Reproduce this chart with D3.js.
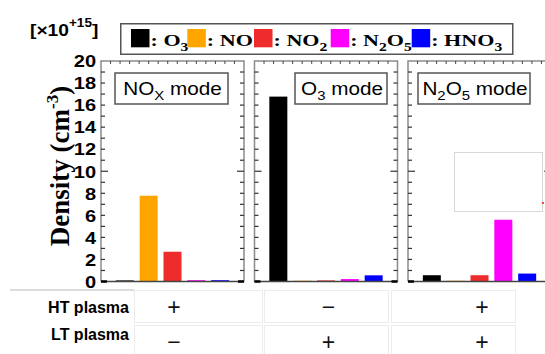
<!DOCTYPE html>
<html>
<head>
<meta charset="utf-8">
<script src="https://cdn.jsdelivr.net/npm/d3@7"></script>
<style>
  html, body { margin: 0; padding: 0; background: #fff; }
  svg { display: block; }
</style>
</head>
<body>
<svg id="chart" width="545" height="354"></svg>
<script>
// Species shown in every panel, in bar order
const species = ["O3", "NO", "NO2", "N2O5", "HNO3"];
const speciesColors = ["#000000", "#FFA500", "#EE2C2C", "#FF00FF", "#0000FF"];

// Operating modes (one panel each)
const modes = ["NOx mode", "O3 mode", "N2O5 mode"];

// Densities in units of 1e15 cm^-3
const noxModeValues  = [0.10, 7.78, 2.70, 0.12, 0.12];
const o3ModeValues   = [16.77, 0.07, 0.10, 0.22, 0.56];
const n2o5ModeValues = [0.57, 0.07, 0.57, 5.60, 0.72];

const yTicks = [0, 2, 4, 6, 8, 10, 12, 14, 16, 18, 20];

// Plasma conditions per mode
const htPlasma = ["+", "\u2212", "+"];
const ltPlasma = ["\u2212", "+", "+"];

const panelValues = [noxModeValues, o3ModeValues, n2o5ModeValues];

const svg = d3.select("#chart");
const SANS = "'Liberation Sans', Arial, sans-serif";
const SERIF = "'Liberation Serif', 'Times New Roman', serif";

const panelW = 143, panelStep = 153.5, panelX0 = 101;
const y = d3.scaleLinear().domain([0, 20]).range([281.5, 61]);
const x = d3.scalePoint().domain(species).range([0, panelW]).padding(1);
const barW = 18;
const color = d3.scaleOrdinal().domain(species).range(speciesColors);

// Writes [text, subscript] parts into a text element, restoring the baseline after each subscript
function writeParts(t, parts, subSize, shift) {
  let pending = 0;
  parts.forEach(([main, sub]) => {
    t.append("tspan").attr("dy", pending).text(main);
    pending = 0;
    if (sub) {
      t.append("tspan").attr("font-size", subSize).attr("dy", shift).text(sub);
      pending = -shift;
    }
  });
}

// Panels
panelValues.forEach((vals, i) => {
  const g = svg.append("g").attr("transform", `translate(${panelX0 + i * panelStep},0)`);

  // bars
  g.selectAll("rect.bar").data(vals.map((v, k) => ({ s: species[k], v })))
    .join("rect").attr("class", "bar")
    .attr("x", d => x(d.s) - barW / 2)
    .attr("y", d => y(d.v))
    .attr("width", barW)
    .attr("height", d => y(0) - y(d.v))
    .attr("fill", d => color(d.s));

  // frame
  g.append("path")
    .attr("d", `M0,${y(0)}V${y(20)}H${panelW}V${y(0)}`)
    .attr("fill", "none").attr("stroke", "#8a8a8a").attr("stroke-width", 1.5);
  g.append("line")
    .attr("x1", 0).attr("x2", panelW).attr("y1", y(0)).attr("y2", y(0))
    .attr("stroke", "#444").attr("stroke-width", 1.5);

  // inward ticks, one per unit
  d3.range(1, 20).forEach(u => {
    const len = u === 10 ? 7 : 4;
    g.append("line").attr("x1", 0).attr("x2", len).attr("y1", y(u)).attr("y2", y(u))
      .attr("stroke", "#333").attr("stroke-width", 1.2);
    g.append("line").attr("x1", panelW - len).attr("x2", panelW).attr("y1", y(u)).attr("y2", y(u))
      .attr("stroke", "#333").attr("stroke-width", 1.2);
  });
  // baseline corner marks
  g.append("line").attr("x1", 0).attr("x2", 6).attr("y1", y(0)).attr("y2", y(0))
    .attr("stroke", "#000").attr("stroke-width", 2.5);
  g.append("line").attr("x1", panelW - 6).attr("x2", panelW).attr("y1", y(0)).attr("y2", y(0))
    .attr("stroke", "#000").attr("stroke-width", 2.5);

  // top ticks
  d3.range(1, 15).forEach(k => {
    const tx = k * panelW / 15;
    g.append("line").attr("x1", tx).attr("x2", tx).attr("y1", y(20)).attr("y2", y(20) + 3)
      .attr("stroke", "#444").attr("stroke-width", 1);
  });
});

// Left axis labels (wide bold digits)
const yAxis = d3.axisLeft(y).tickValues(yTicks).tickSize(0).tickPadding(4);
const ya = svg.append("g").attr("transform", `translate(${panelX0},0)`).call(yAxis);
ya.select(".domain").remove();
ya.selectAll("text")
  .attr("font-family", SANS).attr("font-weight", "bold").attr("font-size", 16)
  .attr("fill", "#000").attr("dy", "0.36em")
  .attr("transform", "scale(1.25,1)");

// Axis title
const title = svg.append("text")
  .attr("transform", "translate(69,166) rotate(-90)")
  .attr("text-anchor", "middle")
  .attr("font-family", SERIF).attr("font-weight", "bold").attr("font-size", 27)
  .attr("fill", "#000");
title.append("tspan").text("Density (cm");
title.append("tspan").attr("font-size", 17).attr("dy", -11).text("-3");
title.append("tspan").attr("dy", 11).text(")");

// Scale multiplier
const mult = svg.append("text").attr("transform", "translate(30,35.5) scale(1.13,1)")
  .attr("font-family", SANS).attr("font-weight", "bold").attr("font-size", 17).attr("fill", "#000");
mult.append("tspan").text("[\u00d710");
mult.append("tspan").attr("font-size", 12).attr("dy", -9).text("+15");
mult.append("tspan").attr("dy", 9).text("]");

// Legend
svg.append("rect").attr("x", 120.75).attr("y", 23.75).attr("width", 392).attr("height", 30.5)
  .attr("fill", "#fff").attr("stroke", "#555").attr("stroke-width", 1.5);

const legendParts = {
  "O3":   [["O", "3"]],
  "NO":   [["NO", null]],
  "NO2":  [["NO", "2"]],
  "N2O5": [["N", "2"], ["O", "5"]],
  "HNO3": [["HNO", "3"]]
};
const legendX = [131, 187.3, 254, 330.7, 411.7];
species.forEach((s, i) => {
  const lx = legendX[i];
  svg.append("rect").attr("x", lx).attr("y", 29).attr("width", 18.5).attr("height", 18.3)
    .attr("fill", color(s));
  const t = svg.append("text").attr("transform", `translate(${lx + 19.5},46.3) scale(1.3,1)`)
    .attr("font-family", SERIF).attr("font-weight", "bold").attr("font-size", 17).attr("fill", "#000");
  t.append("tspan").text(": ");
  writeParts(t, legendParts[s], 12, 5);
});

// Mode labels
const modeBoxes = [
  { x: 115, w: 113, parts: [["NO", "X"], [" mode", null]] },
  { x: 295, w: 92,  parts: [["O", "3"], [" mode", null]] },
  { x: 418, w: 112, parts: [["N", "2"], ["O", "5"], [" mode", null]] }
];
modes.forEach((m, i) => {
  const b = modeBoxes[i];
  svg.append("rect").attr("x", b.x).attr("y", 73).attr("width", b.w).attr("height", 31)
    .attr("fill", "#fff").attr("stroke", "#555").attr("stroke-width", 1.5);
  const t = svg.append("text").attr("transform", `translate(${b.x + b.w / 2 + 1},95) scale(1.15,1)`)
    .attr("text-anchor", "middle")
    .attr("font-family", SANS).attr("font-size", 18).attr("fill", "#000");
  writeParts(t, b.parts, 13, 5);
});

// Faint empty frame in the last panel
svg.append("rect").attr("x", 454.5).attr("y", 152.5).attr("width", 88).attr("height", 59)
  .attr("fill", "none").attr("stroke", "#d8d8d8").attr("stroke-width", 1);
svg.append("rect").attr("x", 542).attr("y", 202).attr("width", 2).attr("height", 2).attr("fill", "#f44");

// Condition table
svg.append("line").attr("x1", 10).attr("x2", 134).attr("y1", 290).attr("y2", 290)
  .attr("stroke", "#d0d0d0").attr("stroke-width", 1.5);
const cellX = [[134, 262], [264, 388], [391, 515]];
const rowY = [[290, 322], [325, 362]];
cellX.forEach(([a, b]) => rowY.forEach(([c, d]) => {
  svg.append("rect").attr("x", a + 0.5).attr("y", c + 0.5).attr("width", b - a).attr("height", d - c)
    .attr("fill", "none").attr("stroke", "#ececec").attr("stroke-width", 1);
}));
svg.append("text").attr("x", 129).attr("y", 313.4).attr("text-anchor", "end")
  .attr("font-family", SANS).attr("font-weight", "bold").attr("font-size", 16).text("HT plasma");
svg.append("text").attr("x", 129).attr("y", 339.5).attr("text-anchor", "end")
  .attr("font-family", SANS).attr("font-weight", "bold").attr("font-size", 16).text("LT plasma");
const symX = [174, 328.5, 482];
htPlasma.forEach((s, i) => {
  svg.append("text").attr("x", symX[i]).attr("y", 314.5).attr("text-anchor", "middle")
    .attr("font-family", SANS).attr("font-size", 23).attr("fill", "#111").text(s);
});
ltPlasma.forEach((s, i) => {
  svg.append("text").attr("x", symX[i]).attr("y", 350).attr("text-anchor", "middle")
    .attr("font-family", SANS).attr("font-size", 23).attr("fill", "#111").text(s);
});
</script>
</body>
</html>
